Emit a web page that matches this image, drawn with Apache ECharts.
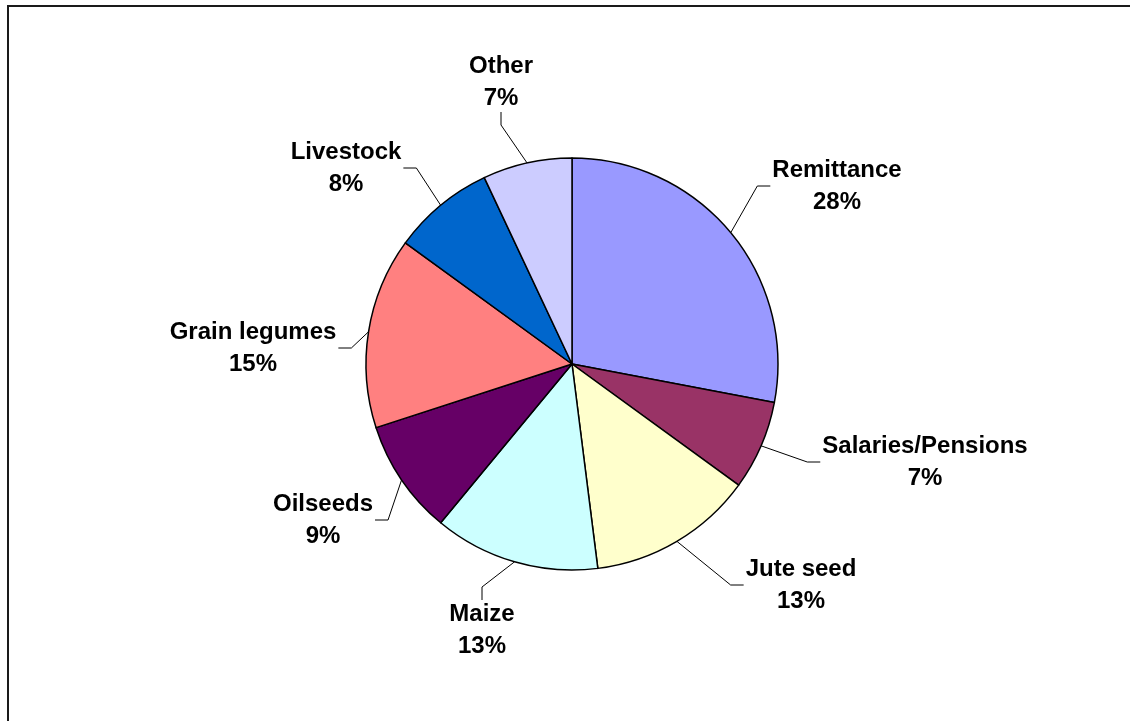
<!DOCTYPE html>
<html>
<head>
<meta charset="utf-8">
<title>Income sources</title>
<script src="https://cdn.jsdelivr.net/npm/echarts@6/dist/echarts.min.js"></script>
<style>
  html, body { margin: 0; padding: 0; background: #ffffff; }
  #chart { width: 1130px; height: 721px; }
</style>
</head>
<body>
<div id="chart"></div>
<script>
// Share of household income by source (%)
const categories = ['Remittance', 'Salaries/Pensions', 'Jute seed', 'Maize', 'Oilseeds', 'Grain legumes', 'Livestock', 'Other'];
const shares = [28, 7, 13, 13, 9, 15, 8, 7];
const sliceColors = ['#9999FF', '#993366', '#FFFFCC', '#CCFFFF', '#660066', '#FF8080', '#0066CC', '#CCCCFF'];

// Where each label block sits (centre, px) and which side of it the leader line enters
const labelCenters = [[837, 186], [925, 462], [801, 585], [482, 630], [323, 520], [253, 348], [346, 168], [501, 82]];
const labelSides = ['right', 'right', 'right', 'bottom', 'left', 'left', 'left', 'top'];

const chart = echarts.init(document.getElementById('chart'), null, { renderer: 'canvas' });

const GAP = 2;      // space between leader end and label block
const ELBOW = 13;   // length of the straight piece next to the label

chart.setOption({
  animation: false,
  backgroundColor: '#ffffff',
  graphic: [{
    type: 'polyline',
    shape: { points: [[8, 721], [8, 6], [1130, 6]] },
    style: { stroke: '#1a1a1a', lineWidth: 2, fill: null },
    silent: true
  }],
  series: [{
    type: 'pie',
    center: [572, 364],
    radius: 206,
    startAngle: 90,
    clockwise: true,
    avoidLabelOverlap: false,
    emphasis: { disabled: true },
    itemStyle: { borderColor: '#000000', borderWidth: 1.5 },
    label: {
      show: true,
      position: 'outside',
      formatter: p => `{t|${p.name}}\n{t|${Math.round(p.percent)}%}`,
      rich: {
        t: {
          align: 'center',
          fontFamily: '"Liberation Sans", Arial, sans-serif',
          fontSize: 24,
          fontWeight: 'bold',
          lineHeight: 32,
          color: '#000000'
        }
      }
    },
    labelLine: {
      show: true,
      length: 20,
      length2: 12,
      lineStyle: { color: '#000000', width: 1 }
    },
    labelLayout: function (params) {
      const i = params.dataIndex;
      const cx = labelCenters[i][0];
      const cy = labelCenters[i][1];
      const w = params.labelRect.width;
      const h = params.labelRect.height;
      const start = params.labelLinePoints ? params.labelLinePoints[0] : [cx, cy];
      let end, elbow;
      switch (labelSides[i]) {
        case 'right':
          end = [cx - w / 2 - GAP, cy];
          elbow = [end[0] - ELBOW, cy];
          break;
        case 'left':
          end = [cx + w / 2 + GAP, cy];
          elbow = [end[0] + ELBOW, cy];
          break;
        case 'top':
          end = [cx, cy + h / 2 + GAP];
          elbow = [cx, end[1] + ELBOW];
          break;
        default:
          end = [cx, cy - h / 2 - GAP];
          elbow = [cx, end[1] - ELBOW];
      }
      return {
        x: cx,
        y: cy,
        align: 'center',
        verticalAlign: 'middle',
        labelLinePoints: [start, elbow, end]
      };
    },
    data: categories.map((name, i) => ({
      name: name,
      value: shares[i],
      itemStyle: { color: sliceColors[i] }
    }))
  }]
});
</script>
</body>
</html>
